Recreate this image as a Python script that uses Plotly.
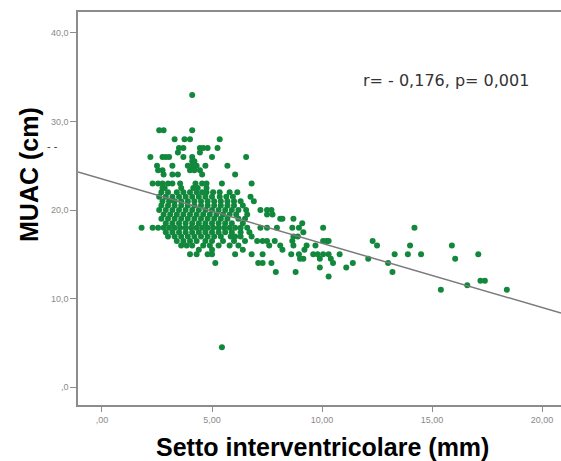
import plotly.graph_objects as go

# ---- data ----
septum_mm = []
muac_cm = []

def add_row(muac, xs):
    for v in xs:
        septum_mm.append(v)
        muac_cm.append(muac)

add_row(33.0, [4.1])
add_row(29.0, [2.6, 2.8, 4.1])
add_row(28.0, [3.3, 3.75, 4.0, 5.35])
add_row(27.0, [3.5, 3.7, 4.45, 4.6, 4.8, 5.25])
add_row(26.5, [3.45, 4.45])
add_row(26.0, [2.2, 2.75, 2.9, 3.05, 3.7, 4.1, 5.0, 6.55])
add_row(25.5, [4.1, 4.2])
add_row(25.0, [2.5, 3.2, 3.9, 4.1, 4.3, 4.7, 5.7])
add_row(24.5, [2.55, 2.75, 4.0, 4.2, 4.45])
add_row(24.0, [2.8, 3.2, 3.45, 4.55, 6.05])
add_row(23.0, [2.3, 2.55, 2.75, 3.0, 3.2, 3.55, 4.25, 4.55, 4.75, 5.45, 6.8])
add_row(22.5, [2.75, 2.85, 3.6, 4.15, 4.35, 4.75])
add_row(22.0, [2.7, 3.0, 3.4, 3.7, 4.0, 4.3, 4.55, 4.75, 5.05, 5.35, 5.8, 6.15])
add_row(21.5, [2.6, 2.9, 3.2, 3.5, 3.8, 4.1, 4.4, 4.7, 5.0, 5.35, 5.65, 5.95, 6.75])
add_row(21.0, [2.75, 3.05, 3.3, 3.6, 3.9, 4.2, 4.5, 4.8, 5.1, 5.4, 5.7, 6.0, 6.3, 6.9])
add_row(20.5, [2.7, 3.0, 3.3, 3.6, 3.9, 4.2, 4.5, 4.8, 5.1, 5.4, 5.7, 6.0, 6.4])
add_row(20.0, [2.6, 2.9, 3.2, 3.5, 3.8, 4.1, 4.4, 4.7, 5.0, 5.3, 5.6, 5.9, 6.2, 6.55, 7.2, 7.5, 7.7])
add_row(19.5, [2.8, 3.1, 3.4, 3.7, 4.0, 4.3, 4.6, 4.9, 5.2, 5.5, 5.8, 6.1, 6.6, 7.5, 7.75])
add_row(19.0, [2.7, 3.0, 3.3, 3.6, 3.9, 4.2, 4.5, 4.8, 5.1, 5.4, 5.7, 6.2, 6.5, 8.1, 8.2, 8.7])
add_row(18.5, [2.9, 3.2, 3.5, 3.8, 4.1, 4.4, 4.7, 5.0, 5.3, 5.6, 5.9, 6.4, 9.1])
add_row(18.0, [1.8, 2.3, 2.55, 2.8, 3.05, 3.3, 3.55, 3.8, 4.05, 4.3, 4.55, 4.8, 5.05, 5.3,
               5.55, 5.8, 6.05, 6.3, 6.6, 7.2, 7.5, 7.95, 8.65, 8.95, 10.05, 14.2])
add_row(17.5, [2.9, 3.2, 3.5, 3.8, 4.1, 4.4, 4.7, 5.0, 5.3, 5.6, 5.9, 6.3, 6.7, 9.15])
add_row(17.0, [3.0, 3.3, 3.6, 3.9, 4.2, 4.5, 4.8, 5.1, 5.4, 5.85, 6.05, 6.3, 6.8, 8.7, 8.9])
add_row(16.5, [3.4, 3.7, 4.0, 4.3, 4.7, 5.0, 5.5, 6.0, 6.5, 7.05, 7.3, 7.5, 7.85, 8.65,
               10.05, 10.2, 10.3, 12.3])
add_row(16.0, [3.6, 3.85, 4.1, 4.6, 4.9, 5.3, 5.8, 6.2, 7.6, 8.1, 8.7, 9.3, 9.7, 12.5, 14.0, 15.9])
add_row(15.5, [4.4, 5.0, 6.4, 8.2, 9.2])
add_row(15.0, [4.0, 4.3, 4.8, 5.0, 6.05, 6.8, 7.3, 8.6, 8.95, 9.6, 9.8, 10.05, 10.3, 10.8,
               13.3, 13.9, 14.5, 17.1])
add_row(14.5, [9.0, 9.15, 9.9, 10.4, 12.1, 16.05])
add_row(14.0, [5.15, 7.1, 7.3, 7.7, 10.5, 11.4, 13.0])
add_row(13.5, [9.9, 11.1])
add_row(13.0, [7.9, 8.8, 13.2])
add_row(12.5, [10.3])
add_row(12.0, [17.2, 17.4])
add_row(11.5, [16.6])
add_row(11.0, [15.4, 18.4])
add_row(4.5, [5.45])

fit_intercept = 23.5
fit_slope = -0.726

x_tickvals = [0, 5, 10, 15, 20]
x_ticktext = [",00", "5,00", "10,00", "15,00", "20,00"]
y_tickvals = [0, 10, 20, 30, 40]
y_ticktext = [",0", "10,0", "20,0", "30,0", "40,0"]

x_range = [-1.09, 20.86]
y_range = [-2.03, 42.37]

fig = go.Figure()
fig.add_trace(go.Scatter(
    x=septum_mm, y=muac_cm, mode="markers",
    marker=dict(color="#12883c", size=6, line=dict(width=0)),
    hoverinfo="skip", showlegend=False))
fig.add_trace(go.Scatter(
    x=x_range,
    y=[fit_intercept + fit_slope * x_range[0], fit_intercept + fit_slope * x_range[1]],
    mode="lines", line=dict(color="#7a7a7a", width=1.5),
    hoverinfo="skip", showlegend=False))

fig.update_layout(
    width=561, height=461,
    margin=dict(l=78, r=0, t=12, b=56),
    paper_bgcolor="white", plot_bgcolor="white",
    font=dict(family="Liberation Sans, Arial, sans-serif"),
    xaxis=dict(range=x_range, tickvals=x_tickvals, ticktext=x_ticktext,
               showgrid=False, zeroline=False, showline=True, mirror=True,
               linecolor="#8c8c8c", linewidth=1.5, ticks="outside", ticklen=5,
               tickcolor="#8c8c8c", tickfont=dict(size=9, color="#8a8a8a")),
    yaxis=dict(range=y_range, tickvals=y_tickvals, ticktext=y_ticktext,
               showgrid=False, zeroline=False, showline=True,
               linecolor="#8c8c8c", linewidth=1.5, ticks="outside", ticklen=6,
               tickcolor="#8c8c8c", tickfont=dict(size=9, color="#8a8a8a")),
    annotations=[
        dict(text="r= - 0,176, p= 0,001", xref="paper", yref="paper",
             x=(446 - 78) / 483, y=(405 - 80) / 393, showarrow=False,
             xanchor="center", yanchor="middle",
             font=dict(family="DejaVu Sans", size=16, color="#333333")),
        dict(text="<b>Setto interventricolare (mm)</b>", xref="paper", yref="paper",
             x=(322 - 78) / 483, y=(405 - 447) / 393, showarrow=False,
             xanchor="center", yanchor="middle",
             font=dict(family="Liberation Sans", size=25, color="black")),
        dict(text="<b>MUAC (cm)</b>", xref="paper", yref="paper",
             x=(29 - 78) / 483, y=(405 - 175) / 393, showarrow=False, textangle=-90,
             xanchor="center", yanchor="middle",
             font=dict(family="Liberation Sans", size=25, color="black")),
        dict(text="- -", xref="paper", yref="paper",
             x=(52 - 78) / 483, y=(405 - 146) / 393, showarrow=False,
             xanchor="center", yanchor="middle",
             font=dict(family="Liberation Sans", size=11, color="#333333")),
    ],
)

fig.write_html("out.html")
